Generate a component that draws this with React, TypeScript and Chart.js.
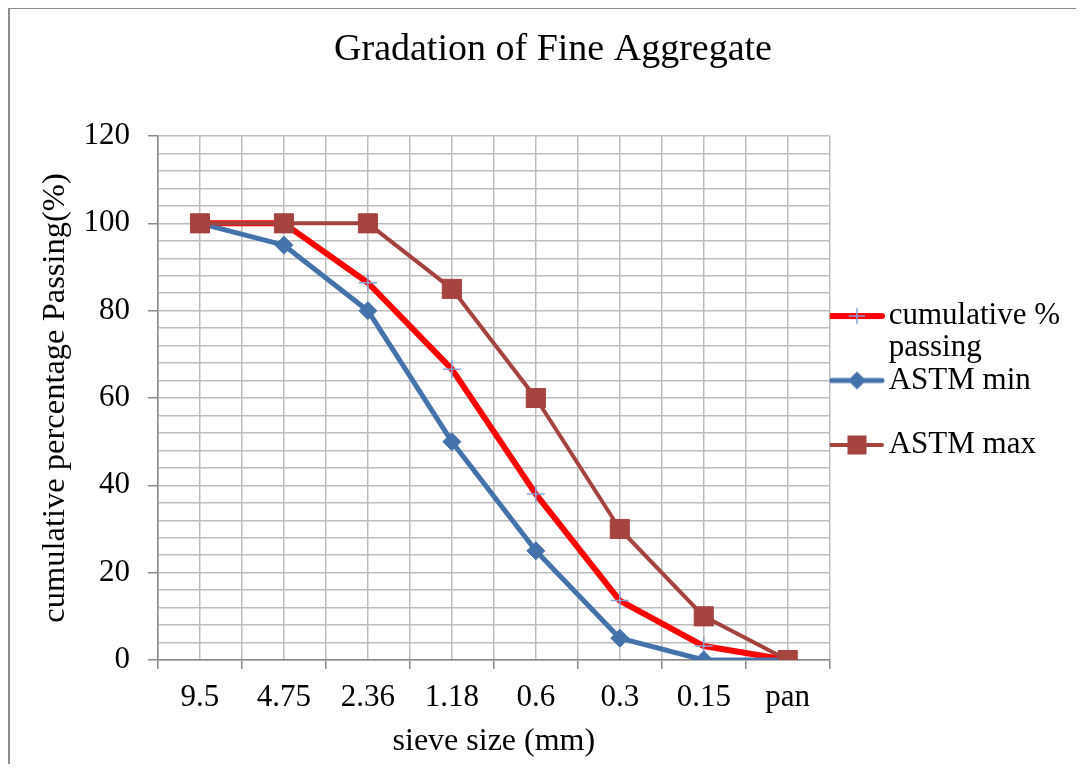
import React, { useEffect, useRef } from 'react';
import { Chart, registerables } from 'chart.js';

Chart.register(...registerables);

// ---- data ----
const sieveSizes = ['9.5', '4.75', '2.36', '1.18', '0.6', '0.3', '0.15', 'pan'];
const cumulativePassing = [100, 100, 86.4, 66.6, 38, 13.6, 3.2, 0];
const astmMin = [100, 95, 80, 50, 25, 5, 0, 0];
const astmMax = [100, 100, 100, 85, 60, 30, 10, 0];
const seriesNames = ['cumulative % passing', 'ASTM min', 'ASTM max'];
const legendLines = [['cumulative %', 'passing'], ['ASTM min', ''], 'ASTM max'];
const yMin = 0;
const yMax = 120;
const yMajorStep = 20;
const yMinorStep = 4;
const chartTitle = 'Gradation of Fine Aggregate';
const xTitle = 'sieve size (mm)';
const yTitle = 'cumulative percentage Passing(%)';

// ---- styles ----
const FONT = "'Liberation Serif', 'Times New Roman', serif";
const RED = '#FF0000';
const BLUE = '#4472AA';
const BROWN = '#A5433F';
const CROSS = '#87A3D6';
const GRID = '#BDBDBD';
const AXIS = '#888888';

type Marker = 'cross' | 'rectRot' | 'rect';

function makeSample(color: string, lw: number, marker: Marker, mColor: string, r: number) {
  const c = document.createElement('canvas');
  c.width = 69;
  c.height = 30;
  const ctx = c.getContext('2d')!;
  ctx.strokeStyle = color;
  ctx.lineWidth = lw;
  ctx.lineCap = 'round';
  ctx.beginPath();
  ctx.moveTo(14, 15);
  ctx.lineTo(65, 15);
  ctx.stroke();
  const cx = 40;
  const cy = 15;
  if (marker === 'cross') {
    ctx.strokeStyle = mColor;
    ctx.lineWidth = 1.5;
    ctx.lineCap = 'butt';
    ctx.beginPath();
    ctx.moveTo(cx - r, cy);
    ctx.lineTo(cx + r, cy);
    ctx.moveTo(cx, cy - r);
    ctx.lineTo(cx, cy + r);
    ctx.stroke();
  } else if (marker === 'rectRot') {
    ctx.fillStyle = mColor;
    ctx.beginPath();
    ctx.moveTo(cx - r, cy);
    ctx.lineTo(cx, cy - r);
    ctx.lineTo(cx + r, cy);
    ctx.lineTo(cx, cy + r);
    ctx.closePath();
    ctx.fill();
  } else {
    ctx.fillStyle = mColor;
    ctx.fillRect(cx - r, cy - r, 2 * r, 2 * r);
  }
  return c;
}

export default function App() {
  const ref = useRef<HTMLCanvasElement | null>(null);

  useEffect(() => {
    if (!ref.current) return;
    const samples = [
      makeSample(RED, 6, 'cross', CROSS, 8),
      makeSample(BLUE, 5, 'rectRot', BLUE, 9),
      makeSample(BROWN, 4, 'rect', BROWN, 9.5),
    ];
    const chart = new Chart(ref.current, {
      type: 'line',
      data: {
        labels: sieveSizes,
        datasets: [
          {
            label: seriesNames[0],
            data: cumulativePassing,
            borderColor: RED,
            backgroundColor: RED,
            borderWidth: 6,
            pointStyle: 'cross',
            pointRadius: 9,
            pointBorderColor: CROSS,
            pointBackgroundColor: CROSS,
            pointBorderWidth: 1.5,
            borderJoinStyle: 'round',
            tension: 0,
            order: 3,
          },
          {
            label: seriesNames[1],
            data: astmMin,
            borderColor: BLUE,
            backgroundColor: BLUE,
            borderWidth: 5,
            pointStyle: 'rectRot',
            pointRadius: 9,
            pointBorderColor: BLUE,
            pointBackgroundColor: BLUE,
            pointBorderWidth: 1,
            borderJoinStyle: 'round',
            tension: 0,
            order: 2,
          },
          {
            label: seriesNames[2],
            data: astmMax,
            borderColor: BROWN,
            backgroundColor: BROWN,
            borderWidth: 4,
            pointStyle: 'rect',
            pointRadius: 13.5,
            pointBorderColor: BROWN,
            pointBackgroundColor: BROWN,
            pointBorderWidth: 1,
            borderJoinStyle: 'round',
            tension: 0,
            order: 1,
          },
        ],
      },
      options: {
        animation: false,
        responsive: false,
        events: [],
        layout: { padding: { left: 26, right: 6, top: 0, bottom: 12 } },
        font: { family: FONT },
        color: '#000',
        plugins: {
          title: {
            display: true,
            text: chartTitle,
            color: '#000',
            font: { family: FONT, size: 38, weight: 'normal', lineHeight: 1.2 },
            padding: { top: 18, bottom: 63.4 },
          },
          tooltip: { enabled: false },
          legend: {
            display: true,
            position: 'right',
            align: 'center',
            labels: {
              usePointStyle: true,
              pointStyleWidth: 43.5,
              padding: 0,
              color: '#000',
              font: { family: FONT, size: 31, lineHeight: 1.04 },
              generateLabels: (ch: any) =>
                ch.data.datasets.map((ds: any, i: number) => ({
                  text: legendLines[i],
                  pointStyle: samples[i],
                  fillStyle: 'transparent',
                  strokeStyle: 'transparent',
                  lineWidth: 0,
                  hidden: !ch.isDatasetVisible(i),
                  datasetIndex: i,
                  fontColor: '#000',
                })),
            },
          },
        },
        scales: {
          x: {
            type: 'category',
            offset: true,
            grid: {
              offset: true,
              color: GRID,
              lineWidth: 1.5,
              tickLength: 9,
              tickColor: AXIS,
            },
            border: { color: AXIS, width: 1.5 },
            ticks: {
              color: '#000',
              font: { family: FONT, size: 31 },
              padding: 10,
              autoSkip: false,
              maxRotation: 0,
            },
            title: {
              display: true,
              text: xTitle,
              color: '#000',
              font: { family: FONT, size: 32, lineHeight: 0.5 },
              padding: { top: 0, bottom: 2.8 },
            },
            afterFit: (s: any) => {
              s.height = 92;
            },
          },
          x2: {
            type: 'category',
            offset: true,
            position: 'bottom',
            grid: { offset: false, color: GRID, lineWidth: 1.5, drawTicks: false },
            border: { display: false },
            ticks: { display: false },
            afterFit: (s: any) => {
              s.height = 0;
            },
          },
          y: {
            min: yMin,
            max: yMax,
            ticks: {
              stepSize: yMinorStep,
              autoSkip: false,
              color: '#000',
              font: { family: FONT, size: 31 },
              padding: 18,
              callback: (v: any) => (Number(v) % yMajorStep === 0 ? String(v) : ''),
            },
            grid: {
              color: GRID,
              lineWidth: 1.5,
              tickLength: 10,
              tickColor: (c: any) => (c.tick && c.tick.value % yMajorStep === 0 ? AXIS : 'transparent'),
            },
            border: { color: AXIS, width: 1.5 },
            title: {
              display: true,
              text: yTitle,
              color: '#000',
              font: { family: FONT, size: 32.5, lineHeight: 1.2 },
              padding: { top: 0, bottom: 0 },
            },
            afterFit: (s: any) => {
              s.width = 122;
            },
          },
        },
      } as any,
    });
    return () => chart.destroy();
  }, []);

  return (
    <div
      style={{
        borderTop: '2px solid #8c8c8c',
        borderLeft: '2px solid #8c8c8c',
        marginTop: -1,
        width: 1068,
        height: 757,
        boxSizing: 'border-box',
        background: '#fff',
      }}
    >
      <canvas ref={ref} width={1066} height={755} style={{ display: 'block' }} />
    </div>
  );
}
